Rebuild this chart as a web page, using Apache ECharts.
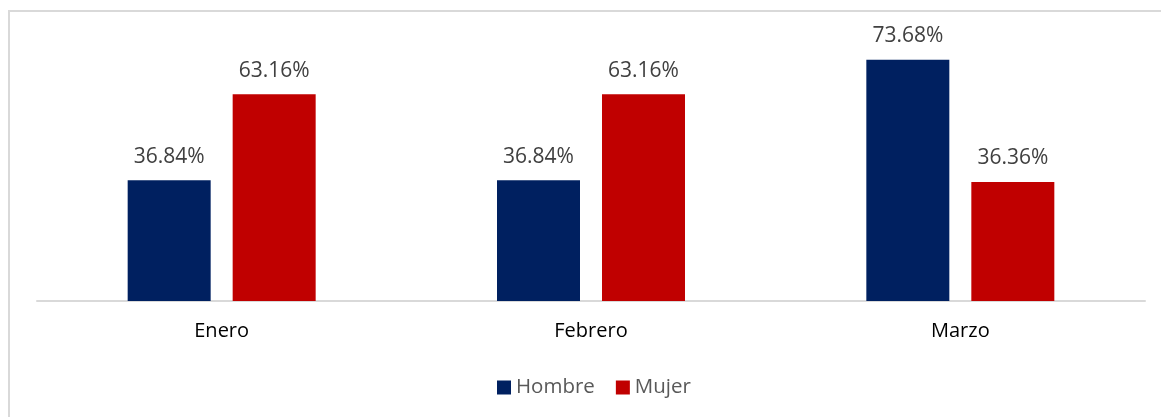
<!DOCTYPE html>
<html>
<head>
<meta charset="utf-8">
<script src="https://cdn.jsdelivr.net/npm/echarts@6/dist/echarts.min.js"></script>
<style>
  html, body { margin: 0; padding: 0; background: #fff; overflow: hidden; }
  #frame { position: absolute; left: 8px; top: 10px; width: 1200px; height: 460px;
           border: 2px solid #d9d9d9; box-sizing: border-box; }
  #main { position: absolute; left: 0; top: 0; width: 1161px; height: 417px; }
</style>
</head>
<body>
<div id="frame"></div>
<div id="main"></div>
<script>
// datos
var meses = ['Enero', 'Febrero', 'Marzo'];
var hombre = [36.84, 36.84, 73.68];
var mujer = [63.16, 63.16, 36.36];

var chart = echarts.init(document.getElementById('main'), null, { renderer: 'canvas' });

var etiqueta = {
  show: true,
  position: 'top',
  distance: 13,
  fontFamily: 'Open Sans',
  fontSize: 21,
  color: '#404040',
  formatter: function (p) { return p.value.toFixed(2) + '%'; }
};

var option = {
  animation: false,
  grid: { left: 37, right: 16, top: 39, bottom: 116 },
  legend: {
    bottom: 14,
    left: 492,
    itemWidth: 14,
    itemHeight: 14,
    itemGap: 21,
    icon: 'rect',
    textStyle: { fontFamily: 'Open Sans', fontSize: 20.5, color: '#595959' },
    data: ['Hombre', 'Mujer']
  },
  xAxis: {
    type: 'category',
    data: meses,
    axisLine: { lineStyle: { color: '#d9d9d9', width: 2 } },
    axisTick: { show: false },
    axisLabel: { margin: 20, fontFamily: 'Open Sans', fontSize: 20, color: '#000' }
  },
  yAxis: {
    type: 'value',
    min: 0,
    max: 80,
    show: false,
    splitLine: { show: false }
  },
  series: [
    {
      name: 'Hombre',
      type: 'bar',
      data: hombre,
      barWidth: 83,
      barGap: '26.5%',
      itemStyle: { color: '#002060' },
      label: etiqueta
    },
    {
      name: 'Mujer',
      type: 'bar',
      data: mujer,
      barWidth: 83,
      itemStyle: { color: '#C00000' },
      label: etiqueta
    }
  ]
};
chart.setOption(option);
</script>
</body>
</html>
